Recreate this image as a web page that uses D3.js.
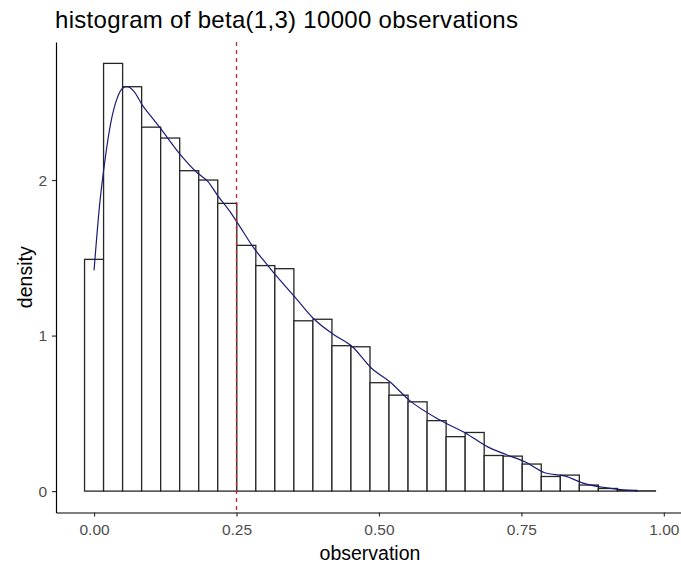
<!DOCTYPE html>
<html>
<head>
<meta charset="utf-8">
<script src="https://cdn.jsdelivr.net/npm/d3@7"></script>
<style>
  body { margin: 0; background: #fff; }
  svg text { font-family: "Liberation Sans", Arial, sans-serif; }
</style>
</head>
<body>
<div id="hist"></div>
<script>
// histogram bins (centres) and their densities
var binMids = [0, 0.0334, 0.0668, 0.1002, 0.1336, 0.167, 0.2004, 0.2338, 0.2672, 0.3006,
               0.334, 0.3674, 0.4008, 0.4342, 0.4676, 0.501, 0.5344, 0.5678, 0.6012, 0.6346,
               0.668, 0.7014, 0.7348, 0.7682, 0.8016, 0.835, 0.8684, 0.9018, 0.9352, 0.9686];
var binWidth = 0.0334;
var binDensity = [1.49, 2.75, 2.60, 2.34, 2.27, 2.06, 2.00, 1.85, 1.58, 1.45,
                  1.43, 1.095, 1.105, 0.935, 0.928, 0.697, 0.617, 0.574, 0.453, 0.35,
                  0.377, 0.229, 0.225, 0.174, 0.094, 0.103, 0.039, 0.017, 0.005, 0.002];

// kernel density curve
var densX = [0, 0.010, 0.020, 0.030, 0.040, 0.050, 0.058, 0.070, 0.085, 0.100,
             0.115, 0.150, 0.180, 0.200, 0.217, 0.238, 0.2526, 0.279, 0.305, 0.314,
             0.352, 0.385, 0.419, 0.453, 0.487, 0.520, 0.553, 0.607, 0.653, 0.690,
             0.723, 0.757, 0.791, 0.827, 0.860, 0.894, 0.928, 0.955];
var densY = [1.42, 1.85, 2.15, 2.38, 2.52, 2.59, 2.60, 2.57, 2.48, 2.41,
             2.34, 2.17, 2.05, 1.99, 1.90, 1.80, 1.72, 1.57, 1.45, 1.41,
             1.25, 1.11, 1.01, 0.93, 0.79, 0.70, 0.585, 0.457, 0.371, 0.286,
             0.235, 0.187, 0.118, 0.096, 0.05, 0.024, 0.008, 0.001];

var meanLine = 0.25;
var xTicks = [0, 0.25, 0.5, 0.75, 1];
var yTicks = [0, 1, 2];

var W = 681, H = 566;
var margin = { top: 42, right: -3, bottom: 53.5, left: 56 },
    width = W - margin.left - margin.right,
    height = H - margin.top - margin.bottom;

var svg = d3.select('#hist').append('svg')
    .attr('width', W)
    .attr('height', H);

var g = svg.append('g')
    .attr('transform', 'translate(' + margin.left + ',' + margin.top + ')');

// ggplot style 5% expansion
var xlo = binMids[0] - binWidth / 2,
    xhi = binMids[binMids.length - 1] + binWidth / 2,
    xpad = (xhi - xlo) * 0.05;
var ymax = d3.max(binDensity), ypad = ymax * 0.05;

var x = d3.scaleLinear().domain([xlo - xpad, xhi + xpad]).range([0, width]);
var y = d3.scaleLinear().domain([-ypad, ymax + ypad]).range([height, 0]);

// bars
g.selectAll('rect.bin')
    .data(binMids)
    .enter()
    .append('rect')
    .attr('class', 'bin')
    .attr('x', function(d) { return x(d - binWidth / 2); })
    .attr('width', function(d) { return x(d + binWidth / 2) - x(d - binWidth / 2); })
    .attr('y', function(d, i) { return y(binDensity[i]); })
    .attr('height', function(d, i) { return y(0) - y(binDensity[i]); })
    .attr('fill', '#fff')
    .attr('stroke', '#262626')
    .attr('stroke-width', 1.3);

// density curve
var line = d3.line()
    .x(function(d, i) { return x(densX[i]); })
    .y(function(d) { return y(d); })
    .curve(d3.curveMonotoneX);

g.append('path')
    .datum(densY)
    .attr('d', line)
    .attr('fill', 'none')
    .attr('stroke', '#1b1b78')
    .attr('stroke-width', 1.2);

// mean line
g.append('line')
    .attr('x1', x(meanLine)).attr('x2', x(meanLine))
    .attr('y1', 0).attr('y2', height)
    .attr('stroke', '#a8302a')
    .attr('stroke-width', 1.3)
    .attr('stroke-dasharray', '4,4');

// axes
var xAxis = g.append('g')
    .attr('transform', 'translate(0,' + height + ')')
    .call(d3.axisBottom(x).tickValues(xTicks).tickFormat(d3.format('.2f'))
        .tickSize(4).tickSizeOuter(0).tickPadding(7));
var yAxis = g.append('g')
    .call(d3.axisLeft(y).tickValues(yTicks).tickFormat(d3.format('d'))
        .tickSize(4).tickSizeOuter(0).tickPadding(5));

[xAxis, yAxis].forEach(function(a) {
    a.select('.domain').attr('stroke', '#000').attr('stroke-width', 1.2);
    a.selectAll('.tick line').attr('stroke', '#333').attr('stroke-width', 1.2);
    a.selectAll('.tick text').attr('fill', '#4d4d4d').style('font-size', '15.5px');
});

// titles
svg.append('text')
    .attr('x', 55).attr('y', 28)
    .style('font-size', '24px')
    .style('letter-spacing', '0.3px')
    .attr('fill', '#000')
    .text('histogram of beta(1,3) 10000 observations');

svg.append('text')
    .attr('x', margin.left + width / 2).attr('y', 560)
    .attr('text-anchor', 'middle')
    .style('font-size', '19.5px')
    .text('observation');

svg.append('text')
    .attr('transform', 'translate(32,' + (margin.top + height / 2) + ')rotate(-90)')
    .attr('text-anchor', 'middle')
    .style('font-size', '19.5px')
    .text('density');
</script>
</body>
</html>
